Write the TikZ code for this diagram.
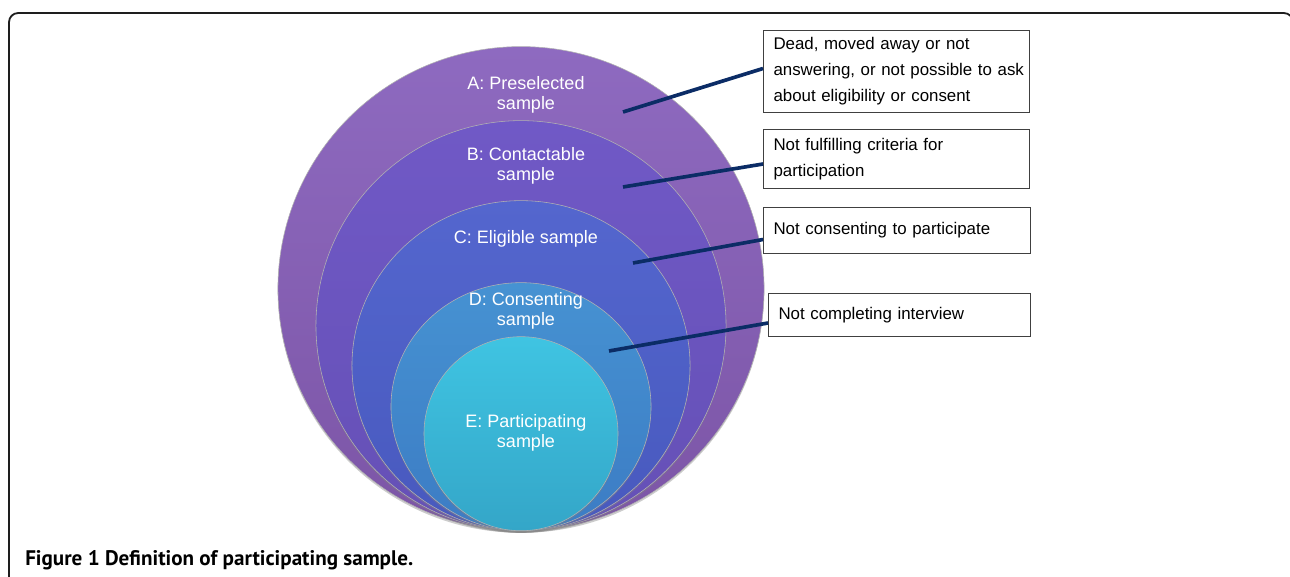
\documentclass[tikz,border=0pt]{standalone}
\usepackage{fontspec}
\setmainfont{Liberation Sans}
\newfontfamily\capfont{PT Sans}
\usetikzlibrary{positioning,calc,shapes.geometric,shadows}

\definecolor{ringAtop}{HTML}{8E6AC0}
\definecolor{ringAbot}{HTML}{7C55A6}
\definecolor{ringBtop}{HTML}{7059C6}
\definecolor{ringBbot}{HTML}{6550B6}
\definecolor{ringCtop}{HTML}{5466CE}
\definecolor{ringCbot}{HTML}{4859BE}
\definecolor{ringDtop}{HTML}{4692D2}
\definecolor{ringDbot}{HTML}{3C7CC4}
\definecolor{ringEtop}{HTML}{3FC4E2}
\definecolor{ringEbot}{HTML}{34A6C8}
\definecolor{pointerblue}{HTML}{0B2C66}
\definecolor{framegray}{HTML}{1E1E1E}

\begin{document}
\begin{tikzpicture}[x=0.025cm, y=-0.025cm,
    ring/.style={ellipse, inner sep=0pt, anchor=south, draw=black!30, line width=0.4pt,
                 drop shadow={shadow xshift=0pt, shadow yshift=-1.5pt, opacity=0.4}},
    ringlabel/.style={text=white, align=center, font=\fontsize{12.8}{14.6}\selectfont},
    notebox/.style={draw=black!75, line width=0.7pt, fill=white, anchor=north west,
                    align=left, inner xsep=0.25cm, inner ysep=2pt,
                    font=\fontsize{12}{18.5}\selectfont},
    pointer/.style={draw=pointerblue, line width=2.6pt}]
   \useasboundingbox (0,0) rectangle (1290,577);
   \clip (0,0) rectangle (1290,577);

   % frame
   \draw[framegray, line width=1.3pt, rounded corners=0.23cm]
         (9,620) -- (9,13) -- (1293,13) -- (1293,620);

   % nested samples
   \coordinate (base) at (521,531);
   \node[ring, top color=ringAtop, bottom color=ringAbot,
         minimum width=12.15cm, minimum height=12.1cm] (A) at (base) {};
   \node[ring, top color=ringBtop, bottom color=ringBbot,
         minimum width=10.25cm, minimum height=10.25cm] (B) at (base) {};
   \node[ring, top color=ringCtop, bottom color=ringCbot,
         minimum width=8.45cm, minimum height=8.25cm] (C) at (base) {};
   \node[ring, top color=ringDtop, bottom color=ringDbot,
         minimum width=6.5cm, minimum height=6.2cm] (D) at (base) {};
   \node[ring, top color=ringEtop, bottom color=ringEbot,
         minimum width=4.85cm, minimum height=4.85cm] (E) at (base) {};

   \node[ringlabel] (labA) at (526,95)  {A: Preselected\\sample};
   \node[ringlabel] (labB) at (526,166) {B: Contactable\\sample};
   \node[ringlabel] (labC) at (526,239) {C: Eligible sample};
   \node[ringlabel] (labD) at (526,311) {D: Consenting\\sample};
   \node[ringlabel] (labE) at (526,433) {E: Participating\\sample};

   % reasons for dropping out
   \node[notebox, text width=6.15cm, minimum height=2.05cm] (n1) at (763,30)
         {Dead, moved away or not\\\mbox{answering, or not possible to ask}\\about eligibility or consent};
   \node[notebox, text width=6.15cm, minimum height=1.475cm] (n2) at (763,129)
         {Not fulfilling criteria for\\participation};
   \node[notebox, text width=6.175cm, minimum height=1.15cm] (n3) at (763,207)
         {Not consenting to participate\\[2pt]};
   \node[notebox, text width=6.05cm, minimum height=1.075cm] (n4) at (768,293)
         {Not completing interview\\[2pt]};

   \coordinate (pA) at (623,112);
   \coordinate (pB) at (623,187);
   \coordinate (pC) at (633,263);
   \coordinate (pD) at (609,351);
   \draw[pointer] (pA) -- ($(n1.west)+(0,-3)$);
   \draw[pointer] (pB) -- ($(n2.west)+(0,5)$);
   \draw[pointer] (pC) -- ($(n3.west)+(0,9)$);
   \draw[pointer] (pD) -- ($(n4.west)+(0,8)$);

   \node[anchor=base west, inner sep=0pt, font=\capfont\bfseries\fontsize{15}{17}\selectfont] (caption)
         at (25,565) {Figure 1 Definition of participating sample.};
\end{tikzpicture}
\end{document}
